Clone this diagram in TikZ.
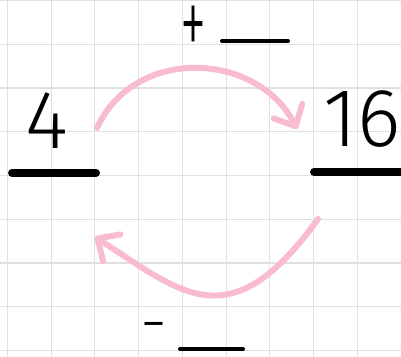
\documentclass[tikz,border=0pt]{standalone}
\usepackage{fontspec}
\setmainfont{Fira Sans}[UprightFont={* Light}]
\usetikzlibrary{arrows.meta, calc}

\begin{document}
\begin{tikzpicture}[x=0.02cm, y=-0.02cm, >={Straight Barb[length=3.4mm, width=6.4mm, round]},
  every node/.style={inner sep=0pt},
  gridline/.style={black!12, line width=0.6pt},
  pinkarc/.style={->, draw={rgb,255:red,248;green,187;blue,208}, line width=3.4pt, line cap=round},
  answerline/.style={line width=4.5pt, line cap=round},
  blankline/.style={line width=2.3pt, line cap=round},
  digit/.style={font=\fontsize{47}{47}\selectfont},
  sign/.style={font=\fontsize{24}{24}\selectfont}]
  \useasboundingbox (0,0) rectangle (401,357);
  \clip (0,0) rectangle (401,357);
  % grid paper
  \foreach \k in {0,...,9} \draw[gridline] (7.3+43.75*\k,0) -- (7.3+43.75*\k,357);
  \foreach \k in {0,...,8} \draw[gridline] (0,0.5+43.75*\k) -- (401,0.5+43.75*\k);
  % numbers on their lines
  \node[digit] (four) at (47,121) {4};
  \node[digit, anchor=east] (sixteen) at (401,119) {16};
  \draw[answerline] (12,173) -- (96,173);
  \draw[answerline] (314,172) -- (420,172);
  % signs with blanks
  \node[sign] (plus) at (193,32) {\scalebox{1.25}[2.4]{+}};
  \draw[blankline] (222,41) -- (288,41);
  \node[sign] (minus) at (154,333) {\scalebox{1.2}[1.4]{−}};
  \draw[blankline] (180,349) -- (243,349);
  % arcs
  \coordinate (topstart) at (97,128);
  \coordinate (topend) at (297,129);
  \coordinate (botstart) at (318,219);
  \coordinate (botend) at (95,237);
  \draw[pinkarc] (topstart) .. controls (135,45) and (258,52) .. (topend);
  \draw[pinkarc] (botstart) .. controls (230,341) and (182,293) .. (botend);
\end{tikzpicture}
\end{document}
